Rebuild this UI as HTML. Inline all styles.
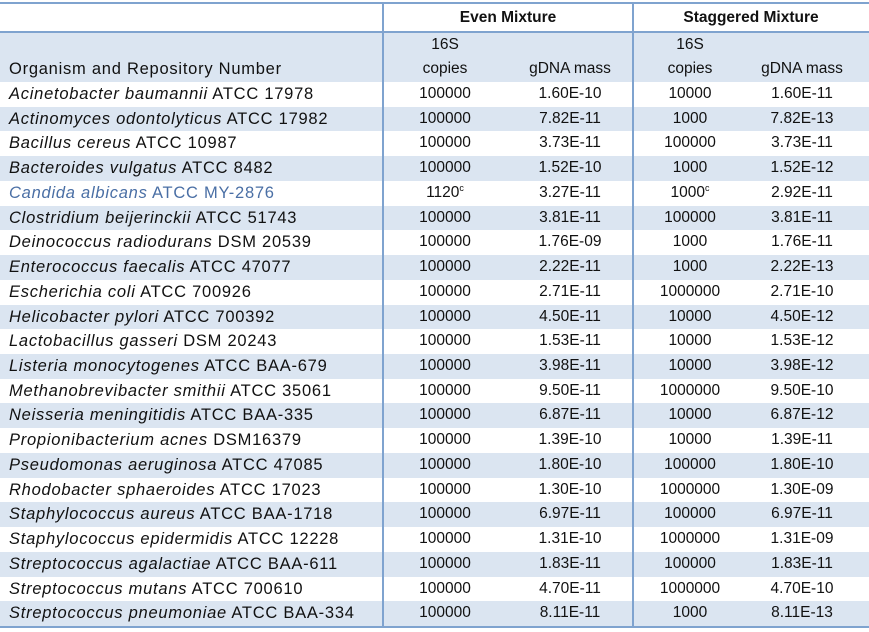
<!DOCTYPE html>
<html><head><style>
html,body{margin:0;padding:0;background:#fff;}
body{width:869px;height:632px;position:relative;overflow:hidden;font-family:"Liberation Sans",sans-serif;color:#111;}
.r{position:absolute;left:0;width:869px;height:24.73px;}
.b{background:#dbe5f1;}
.c{position:absolute;top:0;line-height:24.73px;font-size:15.5px;white-space:nowrap;}
.n{left:9px;font-size:16.5px;letter-spacing:0.75px;}
.c1{left:383px;width:124px;text-align:center;}
.c2{left:507px;width:126px;text-align:center;}
.c3{left:633px;width:114px;text-align:center;}
.c4{left:747px;width:110px;text-align:center;}
.hl{position:absolute;left:0;width:869px;height:2px;background:#7fa3cf;}
.vl{position:absolute;top:3px;width:2px;height:625px;background:#7fa3cf;}
sup{font-size:9px;vertical-align:baseline;position:relative;top:-6px;line-height:0;}
.bl{color:#4a6fa5;}
</style></head><body>
<div class="r" style="top:3px;height:29px"></div>
<div class="c" style="top:4px;line-height:28px;left:383px;width:250px;text-align:center;font-weight:bold;font-size:15.5px">Even Mixture</div>
<div class="c" style="top:4px;line-height:28px;left:633px;width:236px;text-align:center;font-weight:bold;font-size:15.5px">Staggered Mixture</div>
<div class="r b" style="top:32px;height:50px"></div>
<div class="c c1" style="top:33px">16S</div>
<div class="c c3" style="top:33px">16S</div>
<div class="c n" style="top:57px">Organism and Repository Number</div>
<div class="c c1" style="top:57px">copies</div>
<div class="c c2" style="top:57px">gDNA mass</div>
<div class="c c3" style="top:57px">copies</div>
<div class="c c4" style="top:57px">gDNA mass</div>
<div id="rows"></div>
<script>
var d=[
["Acinetobacter baumannii","ATCC 17978","100000","1.60E-10","10000","1.60E-11"],
["Actinomyces odontolyticus","ATCC 17982","100000","7.82E-11","1000","7.82E-13"],
["Bacillus cereus","ATCC 10987","100000","3.73E-11","100000","3.73E-11"],
["Bacteroides vulgatus","ATCC 8482","100000","1.52E-10","1000","1.52E-12"],
["Candida albicans","ATCC MY-2876","1120<sup>c</sup>","3.27E-11","1000<sup>c</sup>","2.92E-11"],
["Clostridium beijerinckii","ATCC 51743","100000","3.81E-11","100000","3.81E-11"],
["Deinococcus radiodurans","DSM 20539","100000","1.76E-09","1000","1.76E-11"],
["Enterococcus faecalis","ATCC 47077","100000","2.22E-11","1000","2.22E-13"],
["Escherichia coli","ATCC 700926","100000","2.71E-11","1000000","2.71E-10"],
["Helicobacter pylori","ATCC 700392","100000","4.50E-11","10000","4.50E-12"],
["Lactobacillus gasseri","DSM 20243","100000","1.53E-11","10000","1.53E-12"],
["Listeria monocytogenes","ATCC BAA-679","100000","3.98E-11","10000","3.98E-12"],
["Methanobrevibacter smithii","ATCC 35061","100000","9.50E-11","1000000","9.50E-10"],
["Neisseria meningitidis","ATCC BAA-335","100000","6.87E-11","10000","6.87E-12"],
["Propionibacterium acnes","DSM16379","100000","1.39E-10","10000","1.39E-11"],
["Pseudomonas aeruginosa","ATCC 47085","100000","1.80E-10","100000","1.80E-10"],
["Rhodobacter sphaeroides","ATCC 17023","100000","1.30E-10","1000000","1.30E-09"],
["Staphylococcus aureus","ATCC BAA-1718","100000","6.97E-11","100000","6.97E-11"],
["Staphylococcus epidermidis","ATCC 12228","100000","1.31E-10","1000000","1.31E-09"],
["Streptococcus agalactiae","ATCC BAA-611","100000","1.83E-11","100000","1.83E-11"],
["Streptococcus mutans","ATCC 700610","100000","4.70E-11","1000000","4.70E-10"],
["Streptococcus pneumoniae","ATCC BAA-334","100000","8.11E-11","1000","8.11E-13"]];
var h="";
d.forEach(function(r,i){
var t=82+i*24.73;
h+='<div class="r'+(i%2?' b':'')+'" style="top:'+t+'px">'+
'<div class="c n'+(i==4?' bl':'')+'"><i>'+r[0]+'</i> '+r[1]+'</div>'+
'<div class="c c1">'+r[2]+'</div><div class="c c2">'+r[3]+'</div>'+
'<div class="c c3">'+r[4]+'</div><div class="c c4">'+r[5]+'</div></div>';
});
document.getElementById("rows").innerHTML=h;
</script>
<div class="hl" style="top:2px"></div>
<div class="hl" style="top:31px"></div>
<div class="hl" style="top:626px"></div>
<div class="vl" style="left:382px"></div>
<div class="vl" style="left:632px"></div>
</body></html>
